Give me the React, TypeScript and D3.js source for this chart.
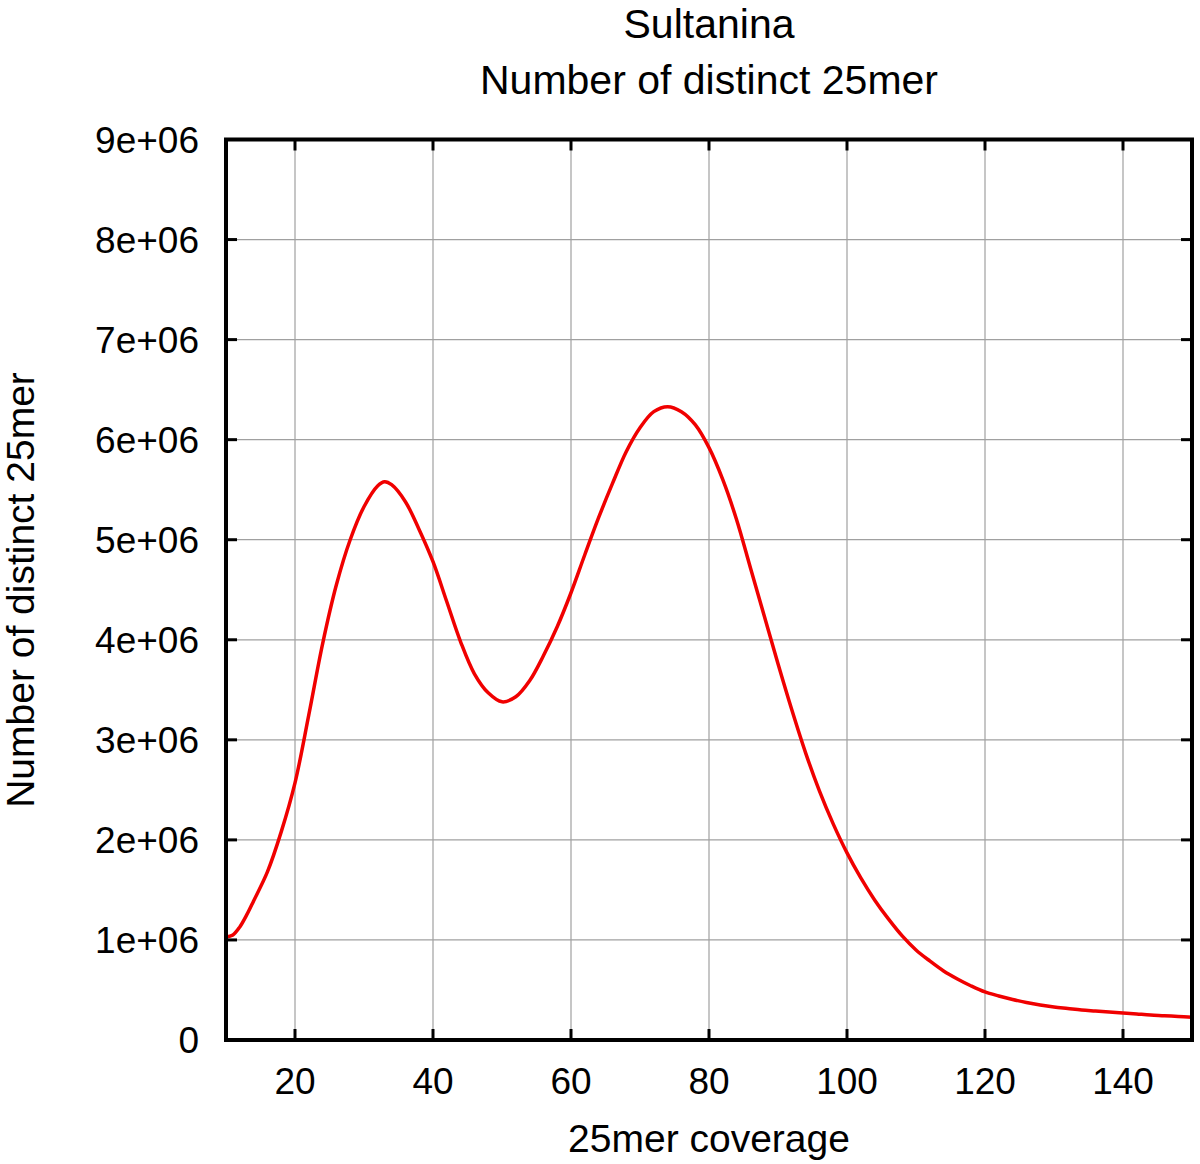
import * as d3 from "d3";
import { useEffect, useRef } from "react";

// 25mer coverage (x) and distinct 25mer counts in millions (y)
const coverage = [
  10, 11, 12, 13, 14, 16, 18, 20, 22, 24, 26, 28, 30, 32, 33, 34, 36, 38, 40, 42,
  44, 46, 48, 50, 52, 54, 56, 58, 60, 62, 64, 66, 68, 70, 72, 74, 76, 78, 80,
  82, 84, 86, 88, 90, 92, 94, 96, 98, 100, 102, 104, 106, 108, 110, 112, 114, 116,
  118, 120, 122, 124, 126, 128, 130, 132, 134, 136, 138, 140, 142, 144, 146, 148, 150,
];
const distinctM = [
  1.03, 1.05, 1.13, 1.25, 1.39, 1.68, 2.08, 2.57, 3.25, 3.96, 4.55, 5.0, 5.33, 5.54, 5.58, 5.55, 5.38, 5.1, 4.78, 4.38,
  3.98, 3.66, 3.47, 3.38, 3.43, 3.59, 3.84, 4.13, 4.47, 4.85, 5.22, 5.56, 5.88, 6.12, 6.28, 6.33, 6.28, 6.15, 5.92,
  5.6, 5.2, 4.72, 4.24, 3.76, 3.3, 2.87, 2.49, 2.16, 1.87, 1.62, 1.4, 1.21, 1.04, 0.9, 0.79, 0.69, 0.61,
  0.54, 0.48, 0.44, 0.405, 0.375, 0.35, 0.33, 0.315, 0.3, 0.29, 0.28, 0.27, 0.26, 0.25, 0.243, 0.235, 0.228,
];

const xTicks = [20, 40, 60, 80, 100, 120, 140];
const yTicks = [0, 1e6, 2e6, 3e6, 4e6, 5e6, 6e6, 7e6, 8e6, 9e6];
const yTickLabels = ["0", "1e+06", "2e+06", "3e+06", "4e+06", "5e+06", "6e+06", "7e+06", "8e+06", "9e+06"];

const titleLines = ["Sultanina", "Number of distinct 25mer"];
const xLabel = "25mer coverage";
const yLabel = "Number of distinct 25mer";

export default function App() {
  const svgRef = useRef<SVGSVGElement>(null);
  const width = 1200;
  const height = 1164;

  useEffect(() => {
    const svg = d3.select(svgRef.current).attr("width", width).attr("height", height);
    svg.selectAll("*").remove();

    const left = 226, right = 1192, top = 139.5, bottom = 1040;
    const x = d3.scaleLinear().domain([10, 150]).range([left, right]);
    const y = d3.scaleLinear().domain([0, 9e6]).range([bottom, top]);
    const font = "'Liberation Sans', Arial, sans-serif";

    svg.append("rect").attr("width", width).attr("height", height).attr("fill", "#fff");

    // grid
    const grid = svg.append("g").attr("stroke", "#a0a0a0").attr("stroke-width", 1.2);
    xTicks.forEach((t) => {
      grid.append("line").attr("x1", x(t)).attr("x2", x(t)).attr("y1", top).attr("y2", bottom);
    });
    yTicks.slice(1, -1).forEach((t) => {
      grid.append("line").attr("x1", left).attr("x2", right).attr("y1", y(t)).attr("y2", y(t));
    });

    // curve
    const pts = coverage.map((c, i) => [c, distinctM[i] * 1e6] as [number, number]);
    const line = d3.line<[number, number]>()
      .x((d) => x(d[0]))
      .y((d) => y(d[1]))
      .curve(d3.curveCatmullRom.alpha(0.5));
    svg.append("path")
      .attr("d", line(pts)!)
      .attr("fill", "none")
      .attr("stroke", "#f00000")
      .attr("stroke-width", 3.5)
      .attr("stroke-linejoin", "round");

    // ticks (inward, mirrored)
    const ticks = svg.append("g").attr("stroke", "#000").attr("stroke-width", 3);
    const tl = 11;
    xTicks.forEach((t) => {
      ticks.append("line").attr("x1", x(t)).attr("x2", x(t)).attr("y1", bottom).attr("y2", bottom - tl);
      ticks.append("line").attr("x1", x(t)).attr("x2", x(t)).attr("y1", top).attr("y2", top + tl);
    });
    yTicks.forEach((t) => {
      ticks.append("line").attr("x1", left).attr("x2", left + tl).attr("y1", y(t)).attr("y2", y(t));
      ticks.append("line").attr("x1", right).attr("x2", right - tl).attr("y1", y(t)).attr("y2", y(t));
    });

    // frame
    svg.append("rect")
      .attr("x", left).attr("y", top)
      .attr("width", right - left).attr("height", bottom - top)
      .attr("fill", "none").attr("stroke", "#000").attr("stroke-width", 4);

    // tick labels
    const labels = svg.append("g").attr("font-family", font).attr("fill", "#000");
    xTicks.forEach((t) => {
      labels.append("text").attr("x", x(t)).attr("y", bottom + 54)
        .attr("font-size", 37).attr("text-anchor", "middle").text(String(t));
    });
    yTicks.forEach((t, i) => {
      labels.append("text").attr("x", 199).attr("y", y(t) + 13)
        .attr("font-size", 37).attr("text-anchor", "end").text(yTickLabels[i]);
    });

    // titles
    const cx = (left + right) / 2;
    labels.append("text").attr("x", cx).attr("y", 38).attr("font-size", 41)
      .attr("text-anchor", "middle").text(titleLines[0]);
    labels.append("text").attr("x", cx).attr("y", 94).attr("font-size", 41)
      .attr("text-anchor", "middle").text(titleLines[1]);
    labels.append("text").attr("x", cx).attr("y", 1152).attr("font-size", 39)
      .attr("text-anchor", "middle").text(xLabel);
    labels.append("text")
      .attr("transform", `translate(34, 590) rotate(-90)`)
      .attr("font-size", 39)
      .attr("text-anchor", "middle")
      .text(yLabel);
  }, []);

  return (
    <div style={{ position: "absolute", left: 0, top: 0 }}>
      <svg ref={svgRef} style={{ display: "block" }}></svg>
    </div>
  );
}
